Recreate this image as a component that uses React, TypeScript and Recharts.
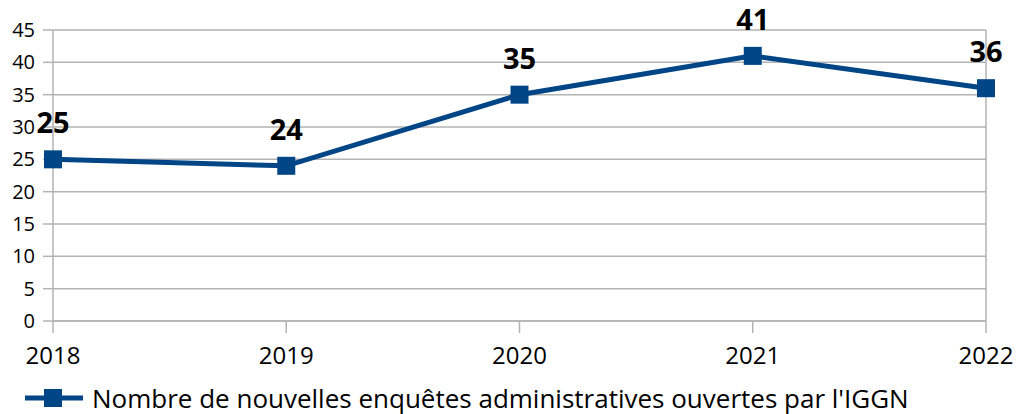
import React from "react";
import { LineChart, Line, XAxis, YAxis, CartesianGrid, LabelList, Legend, ReferenceLine } from "recharts";

const years = ["2018", "2019", "2020", "2021", "2022"];
const enquetes = [25, 24, 35, 41, 36];
const yTicks = [0, 5, 10, 15, 20, 25, 30, 35, 40, 45];
const seriesName = "Nombre de nouvelles enquêtes administratives ouvertes par l'IGGN";

const data = years.map((y, i) => ({ year: y, value: enquetes[i] }));

const COLOR = "#004586";
const GRID = "#b3b3b3";
const FONT = "'Open Sans', sans-serif";

const SquareDot = (props: any) => {
  const { cx, cy } = props;
  if (cx == null || cy == null) return null;
  return <rect x={cx - 9} y={cy - 9} width={18} height={18} fill={COLOR} />;
};

const LegendContent = () => (
  <div style={{ display: "flex", alignItems: "center", height: 30, lineHeight: "30px", fontFamily: FONT, fontSize: 26, color: "#000", whiteSpace: "nowrap" }}>
    <svg width={58} height={20} style={{ marginRight: 9, flex: "none" }}>
      <line x1={0} y1={10} x2={58} y2={10} stroke={COLOR} strokeWidth={5} />
      <rect x={19} y={1} width={18} height={18} fill={COLOR} />
    </svg>
    <span style={{ lineHeight: "30px" }}>{seriesName}</span>
  </div>
);

export default function App() {
  return (
    <div style={{ position: "absolute", left: 0, top: 0, background: "#fff" }}>
      <LineChart width={1017} height={414} data={data} margin={{ top: 30, right: 31, left: 0, bottom: 0 }}>
        <CartesianGrid horizontal={true} vertical={false} stroke={GRID} strokeWidth={1.5} />
        <XAxis
          dataKey="year"
          stroke={GRID}
          strokeWidth={1.5}
          tickSize={12}
          tickMargin={14}
          height={63}
          tick={{ fill: "#000", fontSize: 24, fontFamily: FONT }}
          interval={0}
        />
        <YAxis
          domain={[0, 45]}
          ticks={yTicks}
          width={53}
          stroke={GRID}
          strokeWidth={1.5}
          tickSize={10}
          tickMargin={8}
          interval={0}
          tick={{ fill: "#000", fontSize: 20, fontFamily: FONT }}
        />
        <ReferenceLine x="2022" stroke={GRID} strokeWidth={1.5} />
        <Legend
          verticalAlign="bottom"
          align="left"
          content={<LegendContent />}
          wrapperStyle={{ left: 25, bottom: 1, height: 30, width: 990 }}
        />
        <Line
          type="linear"
          dataKey="value"
          name={seriesName}
          stroke={COLOR}
          strokeWidth={5}
          dot={<SquareDot />}
          activeDot={false}
          isAnimationActive={false}
        >
          <LabelList dataKey="value" position="top" offset={26} style={{ fill: "#000", fontSize: 29, fontWeight: 700, fontFamily: FONT }} />
        </Line>
      </LineChart>
    </div>
  );
}
